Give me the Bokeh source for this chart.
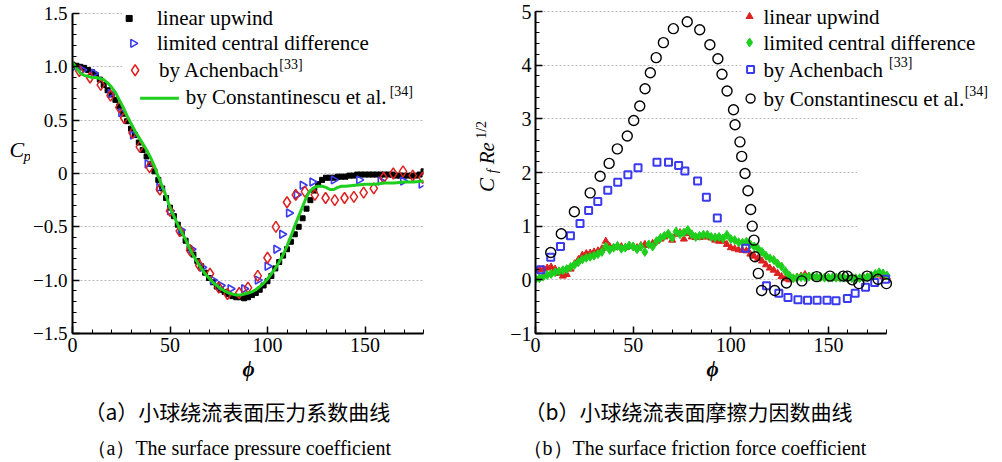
import numpy as np
from bokeh.plotting import figure
from bokeh.models import FixedTicker, CustomJSTickFormatter, Label, BoxAnnotation, Range1d, Title
from bokeh.layouts import row, column
from bokeh.embed import file_html
from bokeh.resources import INLINE

# ---------------- data: (a) surface pressure coefficient ----------------
cp_upwind_phi = list(range(0, 181, 2))
cp_upwind = [1.02, 1.01, 1.00, 0.99, 0.97, 0.95, 0.92, 0.88, 0.83, 0.78,
             0.74, 0.69, 0.63, 0.56, 0.49, 0.42, 0.36, 0.29, 0.22, 0.16,
             0.09, 0.02, -0.06, -0.14, -0.23, -0.32, -0.40, -0.48, -0.56, -0.63,
             -0.70, -0.76, -0.82, -0.87, -0.93, -0.98, -1.02, -1.06, -1.09, -1.11,
             -1.13, -1.15, -1.16, -1.16, -1.17, -1.16, -1.14, -1.12, -1.09, -1.05,
             -1.01, -0.96, -0.89, -0.83, -0.77, -0.71, -0.64, -0.57, -0.50, -0.42,
             -0.33, -0.25, -0.16, -0.10, -0.06, -0.04, -0.04, -0.04, -0.03, -0.03,
             -0.03, -0.02, -0.02, -0.01, -0.01, -0.01, -0.01, -0.01, -0.01, -0.01,
             -0.01, -0.01, -0.01, -0.02, -0.02, -0.02, -0.02, -0.02, -0.02, -0.01,
             0.02]

cp_lcd_phi = [0, 5, 11, 19.5, 25, 31, 38.5, 44.5, 50, 55.5, 61, 66.5, 72, 76, 81,
              88, 95, 100, 104.5, 107.5, 111, 115, 118, 123, 134, 147, 158, 169.5, 179]
cp_lcd = [0.99, 0.97, 0.94, 0.75, 0.57, 0.36, 0.09, -0.13, -0.35, -0.53, -0.71, -0.88,
          -1.00, -1.05, -1.08, -1.08, -1.00, -0.87, -0.71, -0.57, -0.37, -0.20, -0.11,
          -0.08, -0.06, -0.06, -0.07, -0.07, -0.10]

cp_ach_phi = [3.5, 9, 14.5, 19.5, 24, 26.5, 30.8, 34.5, 39.5, 44.8, 50, 55, 60.3, 65,
              70.5, 75, 79.5, 85.5, 90, 95, 100, 104.3, 110, 114.5, 119.2, 124.3, 129.8,
              134.5, 139.5, 144.3, 149.3, 154.5, 159.5, 164.5, 169.5, 174.5, 179.5]
cp_ach = [0.96, 0.90, 0.83, 0.73, 0.62, 0.52, 0.38, 0.25, 0.06, -0.15, -0.35, -0.54,
          -0.72, -0.86, -0.94, -1.07, -1.13, -1.12, -1.07, -0.96, -0.79, -0.50, -0.27,
          -0.20, -0.17, -0.20, -0.23, -0.25, -0.23, -0.22, -0.18, -0.14, -0.04, 0.00,
          0.02, -0.02, -0.04]

cp_con_phi = [0, 2, 4, 6, 8, 10, 12, 14, 16, 18, 20, 22, 24, 26, 28, 30, 32, 34, 36, 38,
              40, 42, 44, 46, 48, 50, 52, 54, 56, 58, 60, 62, 64, 66, 68, 70, 72, 74, 76,
              78, 80, 82, 84, 86, 88, 90, 92, 94, 96, 98, 100, 102, 104, 106, 108, 110,
              112, 114, 116, 118, 120, 122, 124, 126, 128, 130, 132, 134, 136, 138, 140,
              145, 150, 155, 160, 165, 170, 175, 180]
cp_con = [1.04, 0.99, 0.94, 0.92, 0.91, 0.90, 0.90, 0.89, 0.88, 0.85, 0.81, 0.76, 0.69,
          0.62, 0.54, 0.47, 0.40, 0.34, 0.28, 0.22, 0.15, 0.07, -0.03, -0.12, -0.21,
          -0.32, -0.40, -0.48, -0.55, -0.62, -0.70, -0.77, -0.83, -0.89, -0.94, -0.98,
          -1.02, -1.05, -1.08, -1.10, -1.12, -1.13, -1.14, -1.14, -1.13, -1.12, -1.11,
          -1.09, -1.06, -1.03, -0.99, -0.94, -0.89, -0.83, -0.76, -0.68, -0.59, -0.49,
          -0.40, -0.31, -0.22, -0.16, -0.13, -0.12, -0.12, -0.13, -0.15, -0.15, -0.13,
          -0.12, -0.12, -0.11, -0.10, -0.10, -0.09, -0.09, -0.08, -0.08, -0.07]

# ---------------- data: (b) surface friction coefficient ----------------
cf_phi = list(range(0, 181, 2))
cf_upwind = [0.18, 0.19, 0.20, 0.22, 0.24, 0.20, 0.12, 0.07, 0.10, 0.20,
             0.30, 0.38, 0.46, 0.49, 0.50, 0.52, 0.54, 0.58, 0.72, 0.62,
             0.60, 0.63, 0.62, 0.60, 0.63, 0.62, 0.60, 0.64, 0.66, 0.64,
             0.68, 0.72, 0.76, 0.80, 0.83, 0.74, 0.85, 0.88, 0.76, 0.86,
             0.80, 0.79, 0.79, 0.80, 0.80, 0.78, 0.74, 0.72, 0.72, 0.66,
             0.60, 0.58, 0.56, 0.55, 0.54, 0.48, 0.44, 0.40, 0.35, 0.28,
             0.22, 0.18, 0.12, 0.06, 0.02, 0.00, 0.02, 0.05, 0.07, 0.10,
             0.07, 0.06, 0.05, 0.04, 0.04, 0.04, 0.03, 0.03, 0.03, 0.03,
             0.03, 0.03, 0.03, 0.03, 0.04, 0.05, 0.07, 0.10, 0.09, 0.06,
             0.05]
cf_lcd = [0.01, 0.03, 0.06, 0.09, 0.11, 0.14, 0.16, 0.18, 0.20, 0.24,
          0.28, 0.33, 0.38, 0.41, 0.43, 0.45, 0.48, 0.52, 0.62, 0.56,
          0.60, 0.63, 0.58, 0.60, 0.64, 0.62, 0.57, 0.62, 0.52, 0.66,
          0.62, 0.72, 0.78, 0.82, 0.86, 0.78, 0.90, 0.85, 0.88, 0.93,
          0.85, 0.80, 0.82, 0.84, 0.84, 0.80, 0.79, 0.80, 0.77, 0.84,
          0.76, 0.74, 0.70, 0.69, 0.71, 0.66, 0.62, 0.58, 0.52, 0.45,
          0.40, 0.37, 0.30, 0.25, 0.16, 0.08, 0.03, 0.04, 0.05, 0.05,
          0.06, 0.06, 0.05, 0.05, 0.04, 0.04, 0.04, 0.04, 0.04, 0.04,
          0.03, 0.03, 0.03, 0.03, 0.04, 0.05, 0.08, 0.11, 0.14, 0.12,
          0.08]

cf_ach_phi = [2.7, 7.8, 12.8, 17.9, 22.8, 27.2, 31.9, 37, 42.1, 47.3, 52.5, 62.2, 68.1,
              73.3, 76.5, 83, 87.5, 93.1, 107.6, 118.3, 124.6, 129.3, 134.4, 139.3,
              144.2, 149.3, 153.9, 159.7, 163.7, 169, 173.7, 179.3]
cf_ach = [0.19, 0.42, 0.62, 0.82, 1.05, 1.29, 1.46, 1.67, 1.82, 1.96, 2.09, 2.19, 2.19,
          2.13, 2.03, 1.84, 1.54, 1.15, 0.59, -0.11, -0.25, -0.33, -0.37, -0.38, -0.38,
          -0.38, -0.39, -0.35, -0.25, -0.14, -0.05, 0.01]

cf_con_phi = [7.8, 13.2, 19.9, 28, 33.1, 37.7, 41.9, 47, 50.3, 53.4, 56.1, 58.8, 61.8,
              65.5, 70.6, 77.7, 84.1, 89.3, 93.4, 95.5, 98.1, 101.4, 102.2, 104.7, 105.6,
              107.3, 108.8, 110.2, 111, 111.9, 112.4, 114.1, 115.8, 122.5, 128.5, 136.4,
              144, 150.8, 157.6, 159.7, 162.2, 165.6, 169.8, 175.4, 179.7]
cf_con = [0.51, 0.86, 1.27, 1.62, 1.93, 2.17, 2.44, 2.68, 2.97, 3.24, 3.56, 3.86, 4.14,
          4.42, 4.68, 4.81, 4.66, 4.38, 4.12, 3.83, 3.52, 3.17, 2.89, 2.57, 2.30, 1.98,
          1.66, 1.31, 1.00, 0.74, 0.43, 0.12, -0.20, -0.20, -0.06, -0.02, 0.06, 0.07,
          0.07, 0.07, 0.00, -0.07, 0.07, 0.01, -0.07]

legend_a = ["linear upwind", "limited central difference", "by Achenbach", "by Constantinescu et al."]
legend_b = ["linear upwind", "limited central difference", "by Achenbach", "by Constantinescu et al."]
refs = ["[33]", "[34]"]
captions_cn = ["\uff08a\uff09小球绕流表面压力系数曲线", "\uff08b\uff09小球绕流表面摩擦力因数曲线"]
captions_en = ["\uff08a\uff09The surface pressure coefficient",
               "\uff08b\uff09The surface friction force coefficient"]

# ---------------- styling ----------------
SERIF = "Liberation Serif"
CJK = "Noto Sans CJK SC"
BLACK = "#000000"
BLUE = "#3a3af0"
RED = "#dd2020"
GREEN = "#1ecf1e"
ROW_H = 386
CAP_H = 462 - ROW_H


def style_axes(p, xt, xminor, yt, yminor, yfmt, ysize):
    p.outline_line_color = None
    p.xgrid.visible = False
    p.ygrid.ticker = FixedTicker(ticks=yt)
    p.ygrid.grid_line_color = "#b8b8b8"
    p.ygrid.grid_line_dash = "2 2"
    p.ygrid.grid_line_width = 1
    p.xaxis.ticker = FixedTicker(ticks=xt, minor_ticks=xminor)
    p.yaxis.ticker = FixedTicker(ticks=yt, minor_ticks=yminor)
    p.xaxis.formatter = CustomJSTickFormatter(code="return Math.round(tick).toString();")
    p.yaxis.formatter = CustomJSTickFormatter(code=yfmt)
    for ax in (p.xaxis[0], p.yaxis[0]):
        ax.axis_line_width = 2
        ax.axis_line_color = BLACK
        ax.major_tick_in = 7
        ax.major_tick_out = 0
        ax.minor_tick_in = 4
        ax.minor_tick_out = 0
        ax.major_tick_line_width = 1.5
        ax.minor_tick_line_width = 1
        ax.major_tick_line_color = BLACK
        ax.minor_tick_line_color = BLACK
        ax.major_label_text_font = SERIF
        ax.major_label_text_color = BLACK
    p.xaxis.major_label_text_font_size = "20px"
    p.yaxis.major_label_text_font_size = ysize
    p.xaxis.major_label_standoff = 4
    p.yaxis.major_label_standoff = 5
    p.yaxis.bounds = (yt[0], yt[-1])
    p.xaxis.bounds = (xt[0], 180)


def phi_label(p, offset):
    p.add_layout(Title(text="\u03d5", align="left", offset=offset, standoff=0,
                       text_font=SERIF, text_font_style="bold italic",
                       text_font_size="21px", text_color=BLACK), "below")


def blank(width, height, x0, x1, y0, y1):
    # helper canvas for text; ranges are in page pixels (y downward)
    f = figure(width=width, height=height, x_range=Range1d(x0, x1), y_range=Range1d(y1, y0),
               output_backend="svg", toolbar_location=None,
               x_axis_location=None, y_axis_location=None,
               min_border=0, min_border_left=0, min_border_right=0,
               min_border_top=0, min_border_bottom=0)
    f.xgrid.visible = False
    f.ygrid.visible = False
    f.outline_line_color = None
    return f


def lab(p, x, y, text, size, font=SERIF, style="normal", align="left", angle=0.0):
    p.add_layout(Label(x=x, y=y, text=text, text_font=font, text_font_size=f"{size}px",
                       text_font_style=style, text_color=BLACK, text_align=align,
                       text_baseline="middle", angle=angle))


# ================= label strip for C_p =================
cpl = blank(30, ROW_H, 0, 30, 0, ROW_H)
lab(cpl, 9, 173, "C", 22, style="italic")
lab(cpl, 23, 180, "p", 15, style="italic")

# ================= figure (a) =================
Y1_TOP = 1.5 + 13 * 3 / 321        # frame reaches the page top so the legend is not clipped
p1 = figure(width=442, height=ROW_H, x_range=(0, 180), y_range=(-1.5, Y1_TOP),
            output_backend="svg", toolbar_location=None,
            min_border_left=40, min_border_right=49, min_border_top=0,
            min_border_bottom=ROW_H - 334)
fmt_a = ("if (Math.abs(tick) < 1e-9) return '0';"
         "return (tick < 0 ? '\\u2212' : '') + Math.abs(tick).toFixed(1);")
style_axes(p1, [0, 50, 100, 150], list(range(0, 181, 10)),
           [-1.5, -1.0, -0.5, 0, 0.5, 1.0, 1.5],
           [round(v, 2) for v in np.arange(-1.5, 1.51, 0.1)], fmt_a, "19px")
phi_label(p1, 240 - 70)

# page pixel -> data helpers for legend placement
fx1 = lambda sx: (sx - 70) / 353 * 180
fy1 = lambda sy: 1.5 - (sy - 13) / 321 * 3

p1.add_layout(BoxAnnotation(left=fx1(120), right=180, bottom=fy1(108), top=Y1_TOP,
                            fill_color="white", fill_alpha=1, line_color=None, level="underlay"))

p1.scatter(cp_upwind_phi, cp_upwind, marker="square", size=5, color=BLACK)
p1.scatter(cp_lcd_phi, cp_lcd, marker="triangle", angle=-np.pi / 2, size=8,
           fill_color=None, line_color=BLUE, line_width=1.6)
p1.scatter(cp_ach_phi, cp_ach, marker="diamond", size=11,
           fill_color=None, line_color=RED, line_width=1.5)
p1.line(cp_con_phi, cp_con, line_color=GREEN, line_width=3)

# legend (a)
p1.scatter([fx1(127)], [fy1(18)], marker="square", size=6, color=BLACK)
p1.scatter([fx1(131)], [fy1(43)], marker="triangle", angle=-np.pi / 2, size=8,
           fill_color=None, line_color=BLUE, line_width=1.6)
p1.scatter([fx1(133)], [fy1(70)], marker="diamond", size=11,
           fill_color=None, line_color=RED, line_width=1.5)
p1.line([fx1(138), fx1(177)], [fy1(98), fy1(98)], line_color=GREEN, line_width=3)
lab(p1, fx1(155), fy1(18), legend_a[0], 21)
lab(p1, fx1(155), fy1(43), legend_a[1], 21)
lab(p1, fx1(157), fy1(70), legend_a[2], 21)
lab(p1, fx1(278), fy1(64), refs[0], 14)
lab(p1, fx1(184), fy1(97), legend_a[3], 21)
lab(p1, fx1(389), fy1(91), refs[1], 14)

# ================= label strip for C_f Re^1/2 =================
cfl = blank(35, ROW_H, 472, 507, 0, ROW_H)
rot = np.pi / 2
lab(cfl, 486, 214, "C", 21, style="italic", align="center", angle=rot)
lab(cfl, 492, 198, "f", 14, style="italic", align="center", angle=rot)
lab(cfl, 486, 177, "Re", 21, style="italic", align="center", angle=rot)
lab(cfl, 481, 150, "1/2", 14, align="center", angle=rot)

# ================= figure (b) =================
X2_END = 180 * 469 / 353   # frame continues right of the axis end to hold the legend
Y2_TOP = 5 + 11 * 6 / 322
p2 = figure(width=495, height=ROW_H, x_range=(0, X2_END), y_range=(-1, Y2_TOP),
            output_backend="svg", toolbar_location=None,
            min_border_left=26, min_border_right=0, min_border_top=0,
            min_border_bottom=ROW_H - 333)
fmt_b = "return (tick < 0 ? '\\u2212' : '') + Math.abs(Math.round(tick)).toString();"
style_axes(p2, [0, 50, 100, 150], list(range(0, 181, 10)),
           [-1, 0, 1, 2, 3, 4, 5],
           [round(v, 2) for v in np.arange(-1, 5.01, 0.2)], fmt_b, "20px")
p2.yaxis.major_label_standoff = 4
phi_label(p2, 704 - 533)

fx2 = lambda sx: (sx - 533) / 353 * 180
fy2 = lambda sy: 5 - (sy - 11) / 322 * 6

p2.add_layout(BoxAnnotation(left=fx2(740), right=X2_END, bottom=fy2(110), top=Y2_TOP,
                            fill_color="white", fill_alpha=1, line_color=None, level="underlay"))
p2.add_layout(BoxAnnotation(left=fx2(856), right=X2_END, bottom=0.5, top=fy2(110),
                            fill_color="white", fill_alpha=1, line_color=None, level="underlay"))
p2.add_layout(BoxAnnotation(left=fx2(890), right=X2_END, bottom=-1, top=0.5,
                            fill_color="white", fill_alpha=1, line_color=None, level="underlay"))

p2.scatter(cf_phi, cf_upwind, marker="triangle", size=7, color=RED)
p2.scatter(cf_phi, cf_lcd, marker="diamond", size=9, color=GREEN)
p2.scatter(cf_ach_phi, cf_ach, marker="square", size=7,
           fill_color=None, line_color=BLUE, line_width=2)
p2.scatter(cf_con_phi, cf_con, marker="circle", size=10,
           fill_color=None, line_color=BLACK, line_width=1.4)

# legend (b)
p2.scatter([fx2(748)], [fy2(16)], marker="triangle", size=7, color=RED)
p2.scatter([fx2(748)], [fy2(42)], marker="diamond", size=9, color=GREEN)
p2.scatter([fx2(749)], [fy2(69)], marker="square", size=7,
           fill_color=None, line_color=BLUE, line_width=2)
p2.scatter([fx2(749)], [fy2(98)], marker="circle", size=9,
           fill_color=None, line_color=BLACK, line_width=1.4)
lab(p2, fx2(762), fy2(16), legend_b[0], 21)
lab(p2, fx2(762), fy2(42), legend_b[1], 21)
lab(p2, fx2(762), fy2(69), legend_b[2], 21)
lab(p2, fx2(888), fy2(62), refs[0], 14)
lab(p2, fx2(762), fy2(98), legend_b[3], 21)
lab(p2, fx2(964), fy2(91), refs[1], 14)

# ================= captions =================
cap = blank(1002, CAP_H, 0, 1002, ROW_H, ROW_H + CAP_H)
lab(cap, 84, 410, captions_cn[0], 21, font=CJK)
lab(cap, 86, 447, captions_en[0], 20)
lab(cap, 524, 410, captions_cn[1], 21, font=CJK)
lab(cap, 522, 447, captions_en[1], 20)

layout = column(row(cpl, p1, cfl, p2), cap)
open("out.html", "w").write(file_html(layout, INLINE))
